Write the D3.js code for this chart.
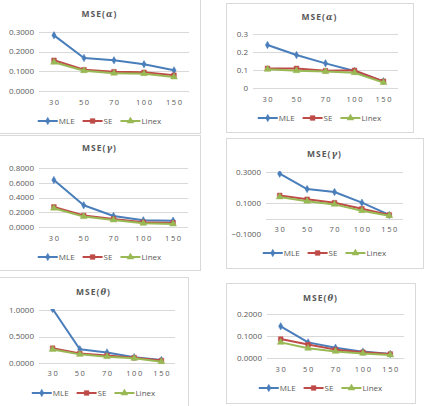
<!DOCTYPE html>
<html>
<head>
<meta charset="utf-8">
<script src="https://cdnjs.cloudflare.com/ajax/libs/d3/7.8.5/d3.min.js"></script>
<style>
  body { margin: 0; background: #fff; }
  svg { display: block; }
  text { font-family: "Open Sans", "Noto Sans", sans-serif; fill: #595959; }
</style>
</head>
<body>
<svg id="chart" width="428" height="406"></svg>
<script>
// sample sizes on the category axis
const categories = ["30", "50", "70", "100", "150"];
const seriesNames = ["MLE", "SE", "Linex"];

// MSE(alpha), first set
const mleAlphaA = [0.283, 0.168, 0.156, 0.136, 0.105];
const seAlphaA = [0.156, 0.108, 0.098, 0.095, 0.080];
const linexAlphaA = [0.146, 0.103, 0.090, 0.088, 0.071];
// MSE(alpha), second set
const mleAlphaB = [0.239, 0.183, 0.137, 0.094, 0.037];
const seAlphaB = [0.109, 0.109, 0.096, 0.098, 0.037];
const linexAlphaB = [0.104, 0.096, 0.091, 0.085, 0.030];
// MSE(gamma), first set
const mleGammaA = [0.636, 0.295, 0.150, 0.091, 0.086];
const seGammaA = [0.273, 0.155, 0.109, 0.064, 0.055];
const linexGammaA = [0.255, 0.141, 0.095, 0.050, 0.041];
// MSE(gamma), second set
const mleGammaB = [0.289, 0.190, 0.171, 0.102, 0.023];
const seGammaB = [0.149, 0.124, 0.102, 0.063, 0.023];
const linexGammaB = [0.139, 0.111, 0.091, 0.050, 0.018];
// MSE(theta), first set
const mleThetaA = [1.02, 0.26, 0.20, 0.11, 0.056];
const seThetaA = [0.28, 0.18, 0.14, 0.10, 0.045];
const linexThetaA = [0.256, 0.163, 0.12, 0.088, 0.025];
// MSE(theta), second set
const mleThetaB = [0.144, 0.071, 0.047, 0.029, 0.018];
const seThetaB = [0.086, 0.061, 0.038, 0.026, 0.018];
const linexThetaB = [0.071, 0.044, 0.030, 0.021, 0.014];

// y tick labels for each panel
const ticksAlphaA = [0, 0.1, 0.2, 0.3];
const ticksAlphaB = [0, 0.1, 0.2, 0.3];
const ticksGammaA = [0, 0.2, 0.4, 0.6, 0.8];
const ticksGammaB = [-0.1, 0.1, 0.3];
const ticksThetaA = [0, 0.5, 1.0];
const ticksThetaB = [0, 0.1, 0.2];

const colors = { MLE: "#4a7ebb", SE: "#be4b48", Linex: "#98b954" };

const svg = d3.select("#chart");

// panel layout: frame box, plot box, title/label/legend rows
const panels = [
  { greek: "α", series: [mleAlphaA, seAlphaA, linexAlphaA], ticks: ticksAlphaA, fmt: ".4f",
    frame: [-1, -1, 201, 134], px: [39, 189], py: [91, 32], domain: [0, 0.3],
    titleY: 14, labelY: 102, legendY: 121 },
  { greek: "α", series: [mleAlphaB, seAlphaB, linexAlphaB], ticks: ticksAlphaB, fmt: "",
    frame: [226, 3, 187, 129], px: [253, 398], py: [88, 34], domain: [0, 0.3],
    titleY: 17, labelY: 99, legendY: 118 },
  { greek: "γ", series: [mleGammaA, seGammaA, linexGammaA], ticks: ticksGammaA, fmt: ".4f",
    frame: [-1, 135, 201, 135], px: [39, 188], py: [227, 168], domain: [0, 0.8],
    titleY: 148, labelY: 238, legendY: 257 },
  { greek: "γ", series: [mleGammaB, seGammaB, linexGammaB], ticks: ticksGammaB, fmt: ".4f",
    frame: [226, 138, 197, 130], px: [266, 403], py: [234, 172], domain: [-0.1, 0.3],
    titleY: 154, labelY: 229, legendY: 253, zeroAxis: true },
  { greek: "θ", series: [mleThetaA, seThetaA, linexThetaA], ticks: ticksThetaA, fmt: ".4f",
    frame: [-1, 277, 189, 130], px: [39, 175], py: [363, 310], domain: [0, 1.0],
    titleY: 292, labelY: 373, legendY: 393 },
  { greek: "θ", series: [mleThetaB, seThetaB, linexThetaB], ticks: ticksThetaB, fmt: ".4f",
    frame: [226, 283, 189, 120], px: [267, 404], py: [358, 314], domain: [0, 0.2],
    titleY: 298, labelY: 369, legendY: 388 }
];

// small excel-like markers: diamond, square, triangle
function marker(g, name) {
  const sym = name === "MLE" ? d3.symbolDiamond : name === "SE" ? d3.symbolSquare : d3.symbolTriangle;
  const area = name === "MLE" ? 16 : name === "SE" ? 22 : 20;
  g.append("path")
    .attr("d", d3.symbol().type(sym).size(area)())
    .attr("fill", colors[name])
    .attr("stroke", colors[name])
    .attr("stroke-width", 0.5);
}

panels.forEach((p, pi) => {
  const g = svg.append("g");
  const [fx, fy, fw, fh] = p.frame;
  const cx = fx + fw / 2;

  g.append("rect")
    .attr("x", fx + 0.5).attr("y", fy + 0.5)
    .attr("width", fw).attr("height", fh)
    .attr("fill", "#fff").attr("stroke", "#d9d9d9");

  // title with italic greek letter
  const title = g.append("text")
    .attr("x", cx).attr("y", p.titleY + 3)
    .attr("text-anchor", "middle")
    .style("font-size", "8.5px").style("font-weight", "bold")
    .style("letter-spacing", "1px").style("fill", "#595959");
  title.append("tspan").text("MSE(");
  title.append("tspan").text(p.greek).style("font-style", "italic").style("font-family", "DejaVu Serif");
  title.append("tspan").text(")");

  const x = d3.scalePoint().domain(categories).range(p.px).padding(0.5);
  const y = d3.scaleLinear().domain(p.domain).range(p.py);

  // gridlines
  const gridTicks = p.zeroAxis ? p.ticks.filter(t => t > p.domain[0]) : p.ticks;
  g.selectAll(".grid").data(gridTicks).enter().append("line")
    .attr("x1", p.px[0]).attr("x2", p.px[1])
    .attr("y1", d => Math.round(y(d)) + 0.5).attr("y2", d => Math.round(y(d)) + 0.5)
    .attr("stroke", "#d9d9d9").attr("stroke-width", 1);
  if (p.zeroAxis) {
    g.append("line")
      .attr("x1", p.px[0]).attr("x2", p.px[1])
      .attr("y1", Math.round(y(0)) + 0.5).attr("y2", Math.round(y(0)) + 0.5)
      .attr("stroke", "#d9d9d9");
  }

  // y tick labels
  const fmt = p.fmt ? d3.format(p.fmt) : d => String(d);
  g.selectAll(".ytick").data(p.ticks).enter().append("text")
    .attr("x", p.px[0] - 5).attr("y", d => y(d) + 2.8)
    .attr("text-anchor", "end")
    .style("font-size", "8px")
    .text(d => fmt(d));

  // x labels
  g.selectAll(".xtick").data(categories).enter().append("text")
    .attr("x", d => x(d) + 0.8).attr("y", p.labelY + 2.8)
    .attr("text-anchor", "middle")
    .style("font-size", "7.5px").style("letter-spacing", "1.6px")
    .text(d => d);

  // clip to plot area
  const clipId = "clip" + pi;
  g.append("clipPath").attr("id", clipId).append("rect")
    .attr("x", p.px[0] - 6).attr("y", p.py[1] - 1)
    .attr("width", p.px[1] - p.px[0] + 12).attr("height", p.py[0] - p.py[1] + 6);

  const line = d3.line().x((d, i) => x(categories[i])).y(d => y(d));
  const plot = g.append("g").attr("clip-path", `url(#${clipId})`);
  seriesNames.forEach((name, si) => {
    const vals = p.series[si];
    plot.append("path")
      .datum(vals)
      .attr("d", line)
      .attr("fill", "none")
      .attr("stroke", colors[name])
      .attr("stroke-width", 2)
      .attr("stroke-linejoin", "round");
    vals.forEach((v, i) => {
      const mg = plot.append("g").attr("transform", `translate(${x(categories[i])},${y(v)})`);
      marker(mg, name);
    });
  });

  // legend, centered on the frame
  const leg = g.append("g");
  const lineLen = 20, gap = 8;
  let lx = 0;
  seriesNames.forEach(name => {
    const it = leg.append("g").attr("transform", `translate(${lx},0)`);
    it.append("line").attr("x1", 0).attr("x2", lineLen).attr("y1", 0).attr("y2", 0)
      .attr("stroke", colors[name]).attr("stroke-width", 2);
    const mg = it.append("g").attr("transform", `translate(${lineLen / 2},0)`);
    marker(mg, name);
    const t = it.append("text").attr("x", lineLen + 1).attr("y", 2.8)
      .style("font-size", "8px").text(name);
    const w = t.node().getComputedTextLength();
    lx += lineLen + 1 + w + gap;
  });
  const total = lx - gap;
  leg.attr("transform", `translate(${cx - total / 2},${p.legendY})`);
});
</script>
</body>
</html>
